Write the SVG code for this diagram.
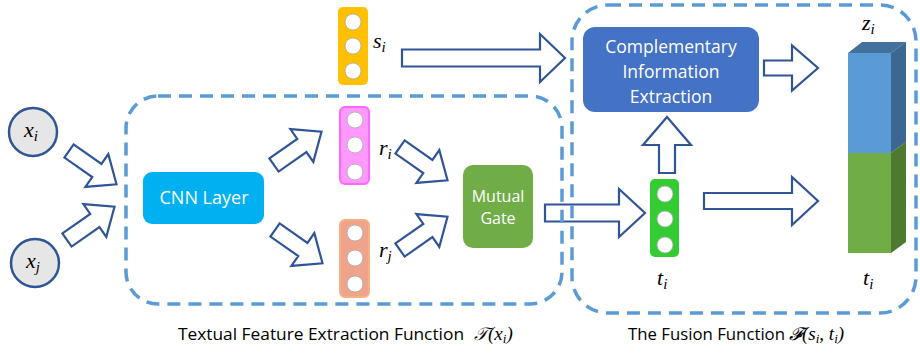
<svg xmlns="http://www.w3.org/2000/svg" width="920" height="358" viewBox="0 0 920 358">
<style>
.arr{fill:#fff;stroke:#2F5597;stroke-width:2.2;stroke-linejoin:miter}
.dash{fill:none;stroke:#5B9BD5;stroke-width:3.5;stroke-dasharray:13 8}
.lbl{font-family:"Open Sans","Liberation Sans",sans-serif;fill:#fff;text-anchor:middle}
.math{font-family:"Liberation Serif","DejaVu Serif",serif;font-style:italic;fill:#000}
.cap{font-family:"Open Sans","Liberation Sans",sans-serif;font-size:16.5px;fill:#000}
.dot{fill:#fff;stroke:#a6a6a6;stroke-width:0.8}
.inp{fill:#E7E6E6;stroke:#2F5597;stroke-width:2.5}
</style>
<defs>
<path id="da" d="M0,-8 L34,-8 L34,-20 L58,0 L34,20 L34,8 L0,8 Z"/>
</defs>
<g id="connectors">
<use href="#da" class="arr" transform="translate(69,151) rotate(35)"/>
<use href="#da" class="arr" transform="translate(67,240) rotate(-35)"/>
<use href="#da" class="arr" transform="translate(274,165) rotate(-35)"/>
<use href="#da" class="arr" transform="translate(275,230) rotate(35)"/>
<use href="#da" class="arr" transform="translate(400,147) rotate(35)"/>
<use href="#da" class="arr" transform="translate(400,250) rotate(-35)"/>
<path class="arr" d="M402,49.5 L540,49.5 L540,34 L565,58 L540,82 L540,66.5 L402,66.5 Z"/>
<path class="arr" d="M764,60.5 L792,60.5 L792,45.5 L818,68 L792,90.5 L792,75.5 L764,75.5 Z"/>
<path class="arr" d="M545,204.5 L619,204.5 L619,189 L645,213 L619,237 L619,221.5 L545,221.5 Z"/>
<path class="arr" d="M704,193 L792,193 L792,177 L818,201 L792,225 L792,209 L704,209 Z"/>
<path class="arr" d="M659,173 L659,145 L643,145 L667,117 L691,145 L675,145 L675,173 Z"/>
</g>
<g id="groups">
<rect class="dash" x="126" y="96" width="436" height="208" rx="32"/>
<rect class="dash" x="572" y="5" width="344" height="308" rx="36"/>
</g>
<g id="xi">
<circle class="inp" cx="33" cy="132" r="24"/>
<text class="math" x="24" y="137" font-size="22">x<tspan font-size="15" dy="4">i</tspan></text>
</g>
<g id="xj">
<circle class="inp" cx="35" cy="263" r="24"/>
<text class="math" x="26" y="268" font-size="22">x<tspan font-size="15" dy="4">j</tspan></text>
</g>
<g id="cnn">
<rect x="143" y="172" width="121" height="52" rx="9" fill="#00B0F0"/>
<text class="lbl" x="204" y="204" font-size="18">CNN Layer</text>
</g>
<g id="si">
<rect x="338" y="7" width="30" height="78" rx="5" fill="#FFC000"/>
<circle class="dot" cx="353" cy="22" r="8"/>
<circle class="dot" cx="353" cy="46" r="8"/>
<circle class="dot" cx="353" cy="71" r="8"/>
<text class="math" x="373" y="48" font-size="22">s<tspan font-size="15" dy="4">i</tspan></text>
</g>
<g id="ri">
<rect x="340" y="107" width="29" height="77" rx="5" fill="#FF99FF" stroke="#FF66FF" stroke-width="2"/>
<circle class="dot" cx="355" cy="120" r="8"/>
<circle class="dot" cx="355" cy="145" r="8"/>
<circle class="dot" cx="355" cy="172" r="8"/>
<text class="math" x="379" y="155" font-size="22">r<tspan font-size="15" dy="4">i</tspan></text>
</g>
<g id="rj">
<rect x="340" y="220" width="29" height="77" rx="5" fill="#F0A38B" stroke="#F4B183" stroke-width="2"/>
<circle class="dot" cx="355" cy="233" r="8"/>
<circle class="dot" cx="355" cy="258" r="8"/>
<circle class="dot" cx="355" cy="284" r="8"/>
<text class="math" x="379" y="257" font-size="22">r<tspan font-size="15" dy="4">j</tspan></text>
</g>
<g id="gate">
<rect x="463" y="165" width="70" height="83" rx="10" fill="#70AD47"/>
<text class="lbl" x="498" y="202" font-size="16">Mutual</text>
<text class="lbl" x="498" y="224" font-size="16">Gate</text>
</g>
<g id="comp">
<rect x="583" y="27" width="176" height="85" rx="12" fill="#4472C4"/>
<text class="lbl" x="671" y="53" font-size="17.5">Complementary</text>
<text class="lbl" x="671" y="78" font-size="17.5">Information</text>
<text class="lbl" x="671" y="103" font-size="17.5">Extraction</text>
</g>
<g id="ti">
<rect x="650" y="179" width="29" height="78" rx="5" fill="#33CC33"/>
<circle class="dot" cx="665" cy="194" r="8" stroke="none"/>
<circle class="dot" cx="665" cy="219" r="8" stroke="none"/>
<circle class="dot" cx="665" cy="245" r="8" stroke="none"/>
<text class="math" x="657" y="285" font-size="22">t<tspan font-size="15" dy="4">i</tspan></text>
</g>
<g id="zi">
<polygon points="848,53 862,42 906,42 891,53" fill="#41719C"/>
<polygon points="891,53 906,42 906,142 891,153" fill="#3B6790"/>
<polygon points="891,153 906,142 906,242 891,253" fill="#4E7A30"/>
<rect x="848" y="53" width="43" height="100" fill="#5B9BD5"/>
<rect x="848" y="153" width="43" height="100" fill="#70AD47"/>
<text class="math" x="862" y="30" font-size="22">z<tspan font-size="15" dy="4">i</tspan></text>
<text class="math" x="863" y="285" font-size="22">t<tspan font-size="15" dy="4">i</tspan></text>
</g>
<g id="captions">
<text class="cap" x="178" y="340"><tspan textLength="286" lengthAdjust="spacingAndGlyphs">Textual Feature Extraction Function</tspan><tspan class="math" font-size="18" x="474">𝒯</tspan><tspan class="math" font-style="normal" font-size="19">(</tspan><tspan class="math" font-size="19">x</tspan><tspan class="math" font-size="13" dy="3">i</tspan><tspan class="math" font-style="normal" font-size="19" dy="-3">)</tspan></text>
<text class="cap" x="628" y="340"><tspan textLength="157" lengthAdjust="spacingAndGlyphs">The Fusion Function</tspan><tspan class="math" font-size="18" x="789">𝓕</tspan><tspan class="math" font-style="normal" font-size="19">(</tspan><tspan class="math" font-size="19">s</tspan><tspan class="math" font-size="13" dy="3">i</tspan><tspan class="math" font-style="normal" font-size="19" dy="-3">, </tspan><tspan class="math" font-size="19">t</tspan><tspan class="math" font-size="13" dy="3">i</tspan><tspan class="math" font-style="normal" font-size="19" dy="-3">)</tspan></text>
</g>
</svg>
